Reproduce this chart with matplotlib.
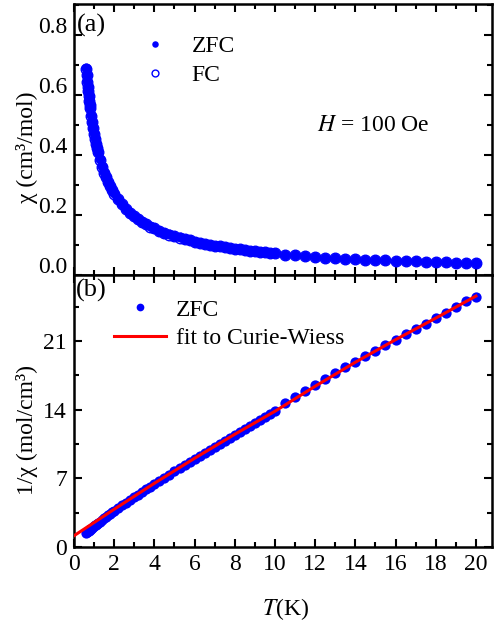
import matplotlib
matplotlib.use("Agg")
import matplotlib.pyplot as plt
from matplotlib.ticker import MultipleLocator
from matplotlib.transforms import ScaledTranslation

plt.rcParams['font.family'] = ['Liberation Serif', 'DejaVu Serif']
plt.rcParams['mathtext.fontset'] = 'stix'

# temperature points (K): dense sweep below 10 K, then every 0.5 K
temp = [0.6, 0.625, 0.65, 0.675, 0.7, 0.725, 0.75, 0.775, 0.8, 0.85, 0.9,
        0.95, 1.0, 1.05, 1.1, 1.15, 1.2, 1.3, 1.4,
        1.5, 1.6, 1.7, 1.8, 1.9, 2.0, 2.2, 2.4, 2.6, 2.8, 3.0, 3.2, 3.4, 3.6,
        3.8, 4.0, 4.25, 4.5, 4.75, 5.0, 5.25, 5.5, 5.75, 6.0, 6.25, 6.5, 6.75,
        7.0, 7.25, 7.5, 7.75, 8.0, 8.25, 8.5, 8.75, 9.0, 9.25, 9.5, 9.75, 10.0,
        10.5, 11.0, 11.5, 12.0, 12.5, 13.0, 13.5, 14.0, 14.5, 15.0, 15.5, 16.0,
        16.5, 17.0, 17.5, 18.0, 18.5, 19.0, 19.5, 20.0]

# chi (cm^3/mol), ZFC
zfc_chi = [0.690, 0.667, 0.645, 0.628, 0.613, 0.597, 0.581, 0.568, 0.556,
           0.532, 0.510, 0.490, 0.472, 0.455, 0.439, 0.424, 0.410,
           0.385, 0.362, 0.342, 0.326, 0.311, 0.297, 0.284,
           0.272, 0.253, 0.236, 0.221, 0.208, 0.197, 0.187, 0.178, 0.170,
           0.162, 0.156, 0.148, 0.141, 0.135, 0.130, 0.125, 0.120, 0.115,
           0.111, 0.108, 0.104, 0.101, 0.098, 0.095, 0.092, 0.090, 0.087,
           0.085, 0.083, 0.081, 0.079, 0.077, 0.075, 0.074, 0.072,
           0.068, 0.065, 0.063, 0.061, 0.058, 0.056, 0.054, 0.053, 0.051,
           0.050, 0.049, 0.047, 0.046, 0.045, 0.044, 0.043, 0.042, 0.041,
           0.040, 0.039]

# chi (cm^3/mol), FC
fc_chi = [0.688, 0.666, 0.644, 0.627, 0.612, 0.596, 0.580, 0.567, 0.555,
          0.531, 0.509, 0.489, 0.471, 0.454, 0.438, 0.423, 0.409,
          0.384, 0.361, 0.341, 0.325, 0.310, 0.296, 0.283,
          0.271, 0.252, 0.235, 0.220, 0.207, 0.196, 0.186, 0.177, 0.169,
          0.161, 0.155, 0.147, 0.140, 0.134, 0.129, 0.124, 0.119, 0.115,
          0.111, 0.107, 0.104, 0.101, 0.098, 0.095, 0.092, 0.089, 0.087,
          0.085, 0.083, 0.081, 0.079, 0.077, 0.075, 0.073, 0.072,
          0.068, 0.065, 0.063, 0.061, 0.058, 0.056, 0.054, 0.053, 0.051,
          0.050, 0.049, 0.047, 0.046, 0.045, 0.044, 0.043, 0.042, 0.041,
          0.040, 0.039]

# 1/chi (mol/cm^3), ZFC
zfc_inv = [1.45, 1.50, 1.55, 1.59, 1.63, 1.68, 1.72, 1.76, 1.80, 1.88, 1.96,
           2.04, 2.12, 2.20, 2.28, 2.36, 2.44,
           2.60, 2.76, 2.92, 3.07, 3.22, 3.37, 3.52, 3.67, 3.96, 4.24, 4.52,
           4.80, 5.08, 5.35, 5.62, 5.89, 6.16, 6.42, 6.75, 7.07, 7.39, 7.71,
           8.03, 8.35, 8.67, 8.98, 9.30, 9.61, 9.92, 10.23, 10.54, 10.84,
           11.15, 11.45, 11.75, 12.05, 12.35, 12.65, 12.95, 13.25, 13.55,
           13.85, 14.70, 15.35, 15.90, 16.50, 17.15, 17.75, 18.35, 18.90,
           19.45, 20.00, 20.60, 21.15, 21.70, 22.25, 22.80, 23.35, 23.90,
           24.50, 25.05, 25.55]

# Curie-Weiss fit curve
fit_temp = [0, 2, 4, 6, 8, 10, 12, 14, 16, 18, 20]
fit_inv = [1.15, 3.85, 6.5, 9.05, 11.5, 13.85, 16.4, 18.85, 21.15, 23.35, 25.6]

blue = '#0000FF'
red = '#FF0000'

fig = plt.figure(figsize=(4.95, 6.21), dpi=100)
W, H = 495, 621
ax1 = fig.add_axes([74 / W, 1 - 275 / H, 418 / W, 271 / H])
ax2 = fig.add_axes([74 / W, 1 - 547 / H, 418 / W, 272 / H])

# (a) chi vs T
ax1.plot(temp, zfc_chi, 'o', color=blue, ms=7.2, mew=0, label='ZFC')
ax1.plot(temp, fc_chi, 'o', mfc='none', mec=blue, ms=7.6, mew=1.0, label='FC')
ax1.text(0.715, 0.55, r'$H$ = 100 Oe', transform=ax1.transAxes,
         fontsize=17, ha='center', va='center')
ax1.text(0.008, 0.965, '(a)', transform=ax1.transAxes, fontsize=19,
         ha='left', va='top')
ax1.set_xlim(0, 20.8)
ax1.set_ylim(0, 0.903)
ax1.set_ylabel('χ (cm³/mol)', fontsize=17)
ax1.yaxis.set_label_coords(-0.086, 0.47)
ax1.legend(loc='center left', bbox_to_anchor=(0.132, 0.79), frameon=False,
           fontsize=17, handlelength=2.2, handletextpad=0.45,
           labelspacing=0.3, borderpad=0, borderaxespad=0, markerscale=0.65,
           numpoints=1)

# (b) 1/chi vs T
ax2.plot(temp, zfc_inv, 'o', color=blue, ms=7.4, mew=0, label='ZFC', zorder=2)
ax2.plot(fit_temp, fit_inv, '-', color=red, lw=2.2, label='fit to Curie-Wiess',
         zorder=3)
ax2.text(0.005, 0.985, '(b)', transform=ax2.transAxes, fontsize=19,
         ha='left', va='top')
ax2.set_xlim(0, 20.8)
ax2.set_ylim(0, 27.75)
ax2.set_xlabel(r'$T$(K)', fontsize=17)
ax2.xaxis.set_label_coords(0.507, -0.18)
ax2.set_ylabel('1/χ (mol/cm³)', fontsize=17)
ax2.yaxis.set_label_coords(-0.086, 0.43)
ax2.legend(loc='center left', bbox_to_anchor=(0.096, 0.82), frameon=False,
           fontsize=17, handlelength=2.2, handletextpad=0.4,
           labelspacing=0.28, borderpad=0, borderaxespad=0, markerscale=0.75,
           numpoints=1)

for ax in (ax1, ax2):
    ax.xaxis.set_major_locator(MultipleLocator(2))
    ax.xaxis.set_minor_locator(MultipleLocator(1))
    ax.tick_params(which='both', direction='in', top=True, right=True,
                   width=1.5, labelsize=17, pad=5)
    ax.tick_params(which='major', length=6)
    ax.tick_params(which='minor', length=3.5)
    for s in ax.spines.values():
        s.set_linewidth(1.8)

ax1.tick_params(labelbottom=False)
ax1.yaxis.set_major_locator(MultipleLocator(0.2))
ax1.yaxis.set_minor_locator(MultipleLocator(0.1))
ax2.yaxis.set_major_locator(MultipleLocator(7))
ax2.yaxis.set_minor_locator(MultipleLocator(3.5))

# the (a) tick labels sit a little above their ticks in the original
ax1.set_yticks([0.0, 0.2, 0.4, 0.6, 0.8])
ax1.set_yticklabels(['0.0', '0.2', '0.4', '0.6', '0.8'])
shift = ScaledTranslation(0, 0.1, fig.dpi_scale_trans)
for t in ax1.yaxis.get_major_ticks():
    t.label1.set_transform(t.label1.get_transform() + shift)

fig.savefig('out.png', dpi=100)
